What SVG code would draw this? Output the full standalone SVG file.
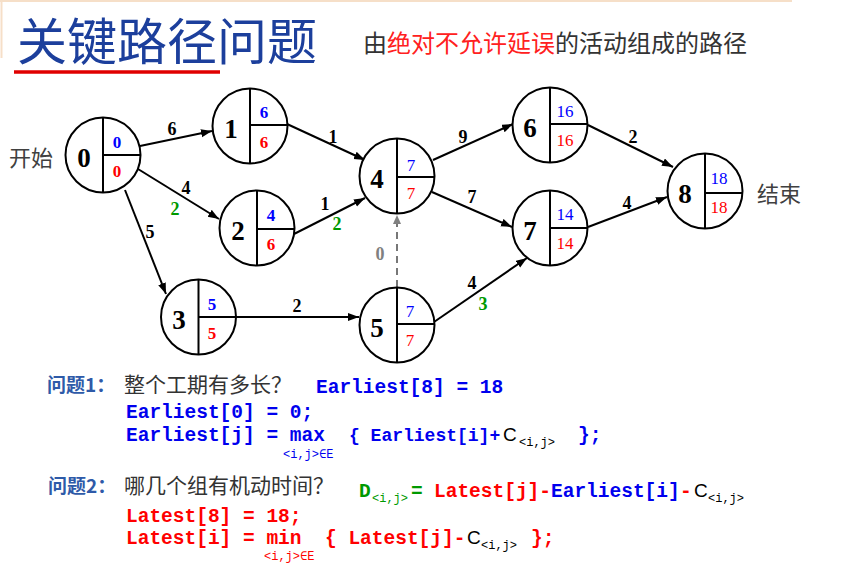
<svg xmlns="http://www.w3.org/2000/svg" width="857" height="572" viewBox="0 0 857 572">
<style>
.nc{fill:#fff;stroke:#000;stroke-width:2}
.nl{stroke:#000;stroke-width:2}
.lab{font-family:"Liberation Serif","Times New Roman",serif;font-weight:bold;font-size:27px;text-anchor:middle;fill:#000}
.e{font-family:"Liberation Serif","Times New Roman",serif;font-size:17px;text-anchor:middle}
.eb{font-weight:bold}
.w{font-family:"Liberation Serif","Times New Roman",serif;font-weight:bold;font-size:18px;text-anchor:middle;fill:#000}
.blue{fill:#0000FF}
.red{fill:#FF0000}
.grn{fill:#009900}
.gry{fill:#808080}
.edge{stroke:#000;stroke-width:2;fill:none;marker-end:url(#ah)}
.cjk{font-family:"Noto Sans CJK SC","Noto Sans",sans-serif}
.mono{font-family:"Liberation Mono","Courier New",monospace;font-weight:bold;font-size:19.5px}
.m18{font-size:18px}
.sub{font-family:"Liberation Mono","Courier New",monospace;font-size:12px}
.sans{font-family:"Liberation Sans",Arial,sans-serif;font-size:19px;fill:#000}
</style>
<defs>
<marker id="ah" markerUnits="userSpaceOnUse" markerWidth="12" markerHeight="10" refX="11" refY="4" orient="auto">
<path d="M0,0 L11,4 L0,8 Z" fill="#000"/>
</marker>
<marker id="ahg" markerUnits="userSpaceOnUse" markerWidth="12" markerHeight="10" refX="9" refY="4" orient="auto">
<path d="M0,0 L9,4 L0,8 Z" fill="#808080"/>
</marker>
</defs>
<rect x="0" y="0" width="857" height="572" fill="#fff"/>
<g id="frame">
<line x1="0" y1="1" x2="792" y2="1" stroke="#F6DFC8" stroke-width="2"/>
<line x1="1.5" y1="0" x2="1.5" y2="58" stroke="#F6DFC8" stroke-width="2"/>
</g>
<g id="title">
<text class="cjk" x="17" y="60" font-size="50" fill="#1C3F9C">关键路径问题</text>
<line x1="14" y1="72" x2="220" y2="72" stroke="#E00000" stroke-width="3.5"/>
<text class="cjk" x="363" y="52" font-size="24" fill="#333">由<tspan fill="#FF2020">绝对不允许延误</tspan>的活动组成的路径</text>
</g>
<g id="side-labels">
<text class="cjk" x="9" y="166" font-size="22" fill="#404040">开始</text>
<text class="cjk" x="757" y="202" font-size="22" fill="#404040">结束</text>
</g>
<g id="connectors">
<line class="edge" x1="140" y1="146" x2="212" y2="131"/>
<line class="edge" x1="138" y1="169" x2="219" y2="219"/>
<line class="edge" x1="125" y1="190" x2="166" y2="294"/>
<line class="edge" x1="287" y1="124" x2="365" y2="160"/>
<line class="edge" x1="294" y1="234" x2="365" y2="198"/>
<line class="edge" x1="433" y1="160" x2="513" y2="124"/>
<line class="edge" x1="432" y1="192" x2="512" y2="227"/>
<line class="edge" x1="588" y1="125" x2="673" y2="167"/>
<line class="edge" x1="588" y1="227" x2="667" y2="197"/>
<line class="edge" x1="236" y1="317" x2="359" y2="317"/>
<line class="edge" x1="434" y1="322" x2="527" y2="258"/>
<line x1="397" y1="287" x2="397" y2="215" stroke="#777" stroke-width="2" stroke-dasharray="7,5" marker-end="url(#ahg)"/>
<text class="w" x="172" y="135">6</text>
<text class="w" x="186" y="194">4</text>
<text class="w grn" x="175" y="215">2</text>
<text class="w" x="150" y="238">5</text>
<text class="w" x="333" y="143">1</text>
<text class="w" x="325" y="210">1</text>
<text class="w grn" x="337" y="230">2</text>
<text class="w" x="463" y="143">9</text>
<text class="w" x="472" y="203">7</text>
<text class="w gry" x="380" y="260">0</text>
<text class="w" x="297" y="312">2</text>
<text class="w" x="472" y="289">4</text>
<text class="w grn" x="483" y="310">3</text>
<text class="w" x="633" y="143">2</text>
<text class="w" x="627" y="209">4</text>
</g>
<g id="node0"><circle class="nc" cx="103" cy="155" r="37.5"/><line class="nl" x1="103" y1="117.5" x2="103" y2="192.5"/><line class="nl" x1="103" y1="155" x2="140.5" y2="155"/><text class="lab" x="84" y="167">0</text><text class="e eb blue" x="117" y="148">0</text><text class="e eb red" x="117" y="177">0</text></g>
<g id="node1"><circle class="nc" cx="250" cy="126" r="37.5"/><line class="nl" x1="250" y1="88.5" x2="250" y2="163.5"/><line class="nl" x1="250" y1="125" x2="287.5" y2="125"/><text class="lab" x="231" y="138">1</text><text class="e eb blue" x="264" y="118">6</text><text class="e eb red" x="264" y="148">6</text></g>
<g id="node2"><circle class="nc" cx="257" cy="228" r="37.5"/><line class="nl" x1="257" y1="190.5" x2="257" y2="265.5"/><line class="nl" x1="257" y1="229" x2="294.5" y2="229"/><text class="lab" x="238" y="240">2</text><text class="e eb blue" x="271" y="221">4</text><text class="e eb red" x="271" y="250">6</text></g>
<g id="node3"><circle class="nc" cx="198.5" cy="317" r="37.5"/><line class="nl" x1="198.5" y1="279.5" x2="198.5" y2="354.5"/><line class="nl" x1="198.5" y1="317" x2="236" y2="317"/><text class="lab" x="179" y="329">3</text><text class="e eb blue" x="212" y="310">5</text><text class="e eb red" x="212" y="339">5</text></g>
<g id="node4"><circle class="nc" cx="397" cy="176" r="37.5"/><line class="nl" x1="397" y1="138.5" x2="397" y2="213.5"/><line class="nl" x1="397" y1="177" x2="434.5" y2="177"/><text class="lab" x="377" y="188">4</text><text class="e blue" x="411" y="171">7</text><text class="e red" x="411" y="199">7</text></g>
<g id="node5"><circle class="nc" cx="397" cy="325" r="37.5"/><line class="nl" x1="397" y1="287.5" x2="397" y2="362.5"/><line class="nl" x1="397" y1="324" x2="434.5" y2="324"/><text class="lab" x="377" y="337">5</text><text class="e blue" x="410" y="317">7</text><text class="e red" x="410" y="346">7</text></g>
<g id="node6"><circle class="nc" cx="550" cy="125" r="37.5"/><line class="nl" x1="550" y1="87.5" x2="550" y2="162.5"/><line class="nl" x1="550" y1="124" x2="587.5" y2="124"/><text class="lab" x="530" y="137">6</text><text class="e blue" x="565" y="117">16</text><text class="e red" x="565" y="146">16</text></g>
<g id="node7"><circle class="nc" cx="550" cy="228" r="37.5"/><line class="nl" x1="550" y1="190.5" x2="550" y2="265.5"/><line class="nl" x1="550" y1="228" x2="587.5" y2="228"/><text class="lab" x="530" y="240">7</text><text class="e blue" x="565" y="220">14</text><text class="e red" x="565" y="249">14</text></g>
<g id="node8"><circle class="nc" cx="705" cy="191" r="37.5"/><line class="nl" x1="705" y1="153.5" x2="705" y2="228.5"/><line class="nl" x1="705" y1="193" x2="742.5" y2="193"/><text class="lab" x="685" y="203">8</text><text class="e blue" x="719" y="184">18</text><text class="e red" x="719" y="213">18</text></g>
<g id="q1">
<text class="cjk" x="47" y="392" font-size="19" font-weight="bold" fill="#2E5AA8">问题1：</text>
<text class="cjk" x="124" y="392" font-size="21" fill="#333">整个工期有多长？</text>
<text class="mono" x="316" y="393" fill="#0000EE">Earliest[8] = 18</text>
<text class="mono" x="126" y="418" fill="#0000EE">Earliest[0] = 0;</text>
<text class="mono" x="126" y="441" fill="#0000EE">Earliest[j] = max</text>
<text class="mono m18" x="349" y="441" fill="#0000EE">{ Earliest[i]+</text>
<text class="sans" x="503" y="441">C</text>
<text class="sub" x="519" y="446" fill="#000">&lt;i,j&gt;</text>
<text class="mono" x="578" y="441" fill="#0000EE">};</text>
<text class="sub" x="283" y="458" fill="#0000EE">&lt;i,j&gt;∈E</text>
</g>
<g id="q2">
<text class="cjk" x="48" y="493" font-size="19" font-weight="bold" fill="#2E5AA8">问题2：</text>
<text class="cjk" x="124" y="493" font-size="21" fill="#333">哪几个组有机动时间？</text>
<text class="mono" x="359" y="497" fill="#009900">D</text>
<text class="sub" x="372" y="502" fill="#009900">&lt;i,j&gt;</text>
<text class="mono" x="411" y="497" fill="#009900">=</text>
<text class="mono" x="434" y="497" fill="#FF0000">Latest[j]-</text>
<text class="mono" x="551" y="497" fill="#0000EE">Earliest[i]</text>
<text class="mono" x="680" y="497" fill="#FF0000">-</text>
<text class="sans" x="694" y="497">C</text>
<text class="sub" x="708" y="502" fill="#000">&lt;i,j&gt;</text>
<text class="mono" x="126" y="522" fill="#FF0000">Latest[8] = 18;</text>
<text class="mono" x="126" y="544" fill="#FF0000">Latest[i] = min</text>
<text class="mono" x="325" y="544" fill="#FF0000">{ Latest[j]-</text>
<text class="sans" x="467" y="544">C</text>
<text class="sub" x="481" y="549" fill="#000">&lt;i,j&gt;</text>
<text class="mono" x="531" y="544" fill="#FF0000">};</text>
<text class="sub" x="264" y="560" fill="#FF0000">&lt;i,j&gt;∈E</text>
</g>
</svg>
